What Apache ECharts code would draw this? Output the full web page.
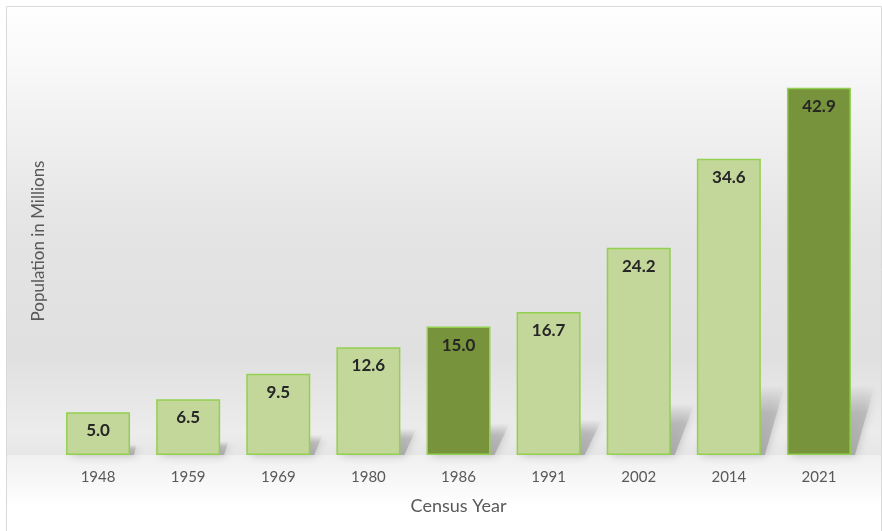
<!DOCTYPE html>
<html>
<head>
<meta charset="utf-8">
<script src="https://cdn.jsdelivr.net/npm/echarts@6/dist/echarts.min.js"></script>
<style>
  html, body { margin: 0; padding: 0; background: #fff; }
  #chart { width: 882px; height: 531px; }
</style>
</head>
<body>
<div id="chart"></div>
<script>
// census years and population (millions)
var years = ['1948', '1959', '1969', '1980', '1986', '1991', '2002', '2014', '2021'];
var population = [5.0, 6.5, 9.5, 12.6, 15.0, 16.7, 24.2, 34.6, 42.9];
// census years that get the dark bar
var darkYears = ['1986', '2021'];

var lightFill = '#c4d79b';
var darkFill = '#77933c';
var edge = '#92d050';

var chart = echarts.init(document.getElementById('chart'));

var barData = population.map(function (v, i) {
    var dark = darkYears.indexOf(years[i]) >= 0;
    return {
        value: v,
        itemStyle: { color: dark ? darkFill : lightFill }
    };
});

// soft floor shadow behind each bar, leaning up and to the right
function renderShadow(params, api) {
    var idx = api.value(0);
    var v = api.value(1);
    var base = api.coord([idx, 0]);
    var top = api.coord([idx, v]);
    var band = api.size([1, 0])[0];
    var w = band * 0.71;
    var x0 = base[0] - w / 2;
    var x1 = base[0] + w / 2;
    var h = Math.min((base[1] - top[1]) * 0.25, 70);
    var dx = Math.min(h * 0.6, 24);
    return {
        type: 'polygon',
        shape: {
            points: [[x0 + 4, base[1]], [x1 + 4, base[1]], [x1 + dx, base[1] - h], [x0 + dx + 4, base[1] - h]]
        },
        style: {
            fill: new echarts.graphic.LinearGradient(0, 1, 0, 0, [
                { offset: 0, color: 'rgba(165,165,165,0.9)' },
                { offset: 0.6, color: 'rgba(175,175,175,0.65)' },
                { offset: 1, color: 'rgba(200,200,200,0)' }
            ]),
            shadowBlur: 10,
            shadowColor: 'rgba(165,165,165,0.85)'
        }
    };
}

chart.setOption({
    animation: false,
    textStyle: { fontFamily: 'Lato, "DejaVu Sans", sans-serif' },
    graphic: [
        {
            type: 'rect', z: -10, silent: true,
            shape: { x: 6, y: 6, width: 875, height: 449 },
            style: {
                fill: new echarts.graphic.LinearGradient(0, 0, 0, 1, [
                    { offset: 0, color: '#ffffff' },
                    { offset: 0.15, color: '#f7f7f7' },
                    { offset: 0.5, color: '#e4e4e4' },
                    { offset: 0.78, color: '#e0e0e0' },
                    { offset: 0.95, color: '#ececec' },
                    { offset: 1, color: '#e6e6e6' }
                ])
            }
        },
        {
            type: 'rect', z: -10, silent: true,
            shape: { x: 6, y: 455, width: 875, height: 75 },
            style: {
                fill: new echarts.graphic.LinearGradient(0, 0, 0, 1, [
                    { offset: 0, color: '#f0f0f0' },
                    { offset: 0.7, color: '#ffffff' },
                    { offset: 1, color: '#ffffff' }
                ])
            }
        },
        {
            type: 'rect', z: -9, silent: true,
            shape: { x: 6.5, y: 6.5, width: 875, height: 530 },
            style: { fill: 'none', stroke: '#d9d9d9', lineWidth: 1 }
        }
    ],
    grid: { left: 53, right: 18, top: 27, bottom: 76 },
    xAxis: {
        type: 'category',
        data: years,
        name: 'Census Year',
        nameLocation: 'middle',
        nameGap: 42,
        nameTextStyle: { color: '#595959', fontSize: 18 },
        axisLine: { show: false },
        axisTick: { show: false },
        axisLabel: { color: '#595959', fontSize: 15, margin: 15 }
    },
    yAxis: {
        type: 'value',
        min: 0,
        max: 50,
        name: 'Population in Millions',
        nameLocation: 'middle',
        nameGap: 6,
        nameTextStyle: { color: '#595959', fontSize: 17 },
        axisLine: { show: false },
        axisTick: { show: false },
        axisLabel: { show: false },
        splitLine: { show: false }
    },
    series: [
        {
            type: 'custom',
            renderItem: renderShadow,
            data: population.map(function (v, i) { return [i, v]; }),
            z: 1,
            silent: true
        },
        {
            type: 'bar',
            data: barData,
            barWidth: '71%',
            z: 2,
            itemStyle: { borderColor: edge, borderWidth: 1.5 },
            label: {
                show: true,
                position: 'insideTop',
                distance: 10,
                color: '#262626',
                fontSize: 17,
                fontWeight: 'bold',
                formatter: function (p) { return p.value.toFixed(1); }
            }
        }
    ]
});
</script>
</body>
</html>
